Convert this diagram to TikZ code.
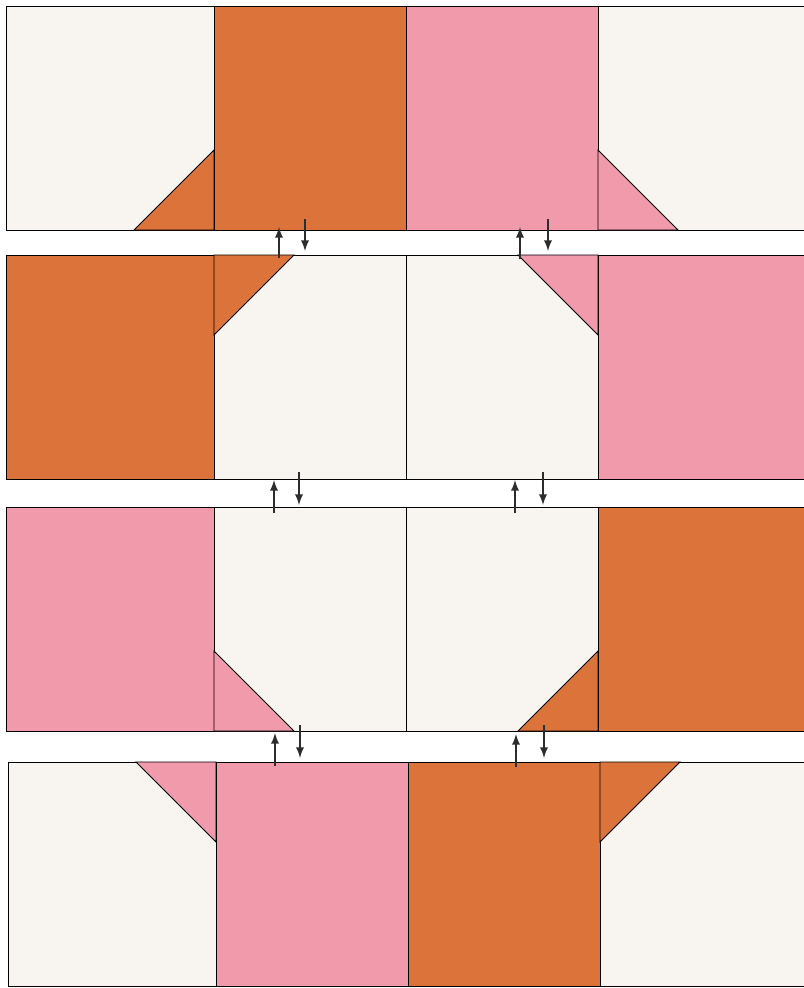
\documentclass[tikz,border=0pt]{standalone}
\usetikzlibrary{arrows}
\definecolor{cream}{RGB}{248,245,240}
\definecolor{rust}{RGB}{219,115,58}
\definecolor{rose}{RGB}{240,154,172}
\definecolor{ink}{RGB}{45,45,45}
\begin{document}
\begin{tikzpicture}[x=0.02cm, y=-0.02cm,
    patch/.style={draw=black, line width=0.5pt},
    flip/.style={ink, line width=1.1pt, ->, >=latex}
]
\useasboundingbox (0,0) rectangle (804,988);

% Fila 1
\draw[patch, fill=cream] (6,6) rectangle (214,230);
\draw[patch, fill=rust] (134,230) -- (214,150) -- (214,230) -- cycle;
\draw[patch, fill=rust] (214,6) rectangle (406,230);
\draw[patch, fill=rose] (406,6) rectangle (598,230);
\draw[patch, fill=cream] (598,6) rectangle (810,230);
\draw[patch, fill=rose] (598,150) -- (678,230) -- (598,230) -- cycle;

% Fila 2
\draw[patch, fill=rust] (6,255) rectangle (214,479);
\draw[patch, fill=cream] (214,255) rectangle (406,479);
\draw[patch, fill=rust] (214,255) -- (294,255) -- (214,335) -- cycle;
\draw[patch, fill=cream] (406,255) rectangle (598,479);
\draw[patch, fill=rose] (518,255) -- (598,255) -- (598,335) -- cycle;
\draw[patch, fill=rose] (598,255) rectangle (810,479);

% Fila 3
\draw[patch, fill=rose] (6,507) rectangle (214,731);
\draw[patch, fill=cream] (214,507) rectangle (406,731);
\draw[patch, fill=rose] (214,651) -- (294,731) -- (214,731) -- cycle;
\draw[patch, fill=cream] (406,507) rectangle (598,731);
\draw[patch, fill=rust] (518,731) -- (598,651) -- (598,731) -- cycle;
\draw[patch, fill=rust] (598,507) rectangle (810,731);

% Fila 4
\draw[patch, fill=cream] (8,762) rectangle (216,986);
\draw[patch, fill=rose] (136,762) -- (216,762) -- (216,842) -- cycle;
\draw[patch, fill=rose] (216,762) rectangle (408,986);
\draw[patch, fill=rust] (408,762) rectangle (600,986);
\draw[patch, fill=cream] (600,762) rectangle (810,986);
\draw[patch, fill=rust] (600,762) -- (680,762) -- (600,842) -- cycle;

% Flechas entre filas
\draw[flip] (279,258) -- (279,227);
\draw[flip] (305,219) -- (305,251);
\draw[flip] (520,259) -- (520,227);
\draw[flip] (548,219) -- (548,251);

\draw[flip] (274,513) -- (274,480);
\draw[flip] (299,472) -- (299,505);
\draw[flip] (515,513) -- (515,480);
\draw[flip] (543,472) -- (543,505);

\draw[flip] (275,766) -- (275,733);
\draw[flip] (300,725) -- (300,758);
\draw[flip] (516,767) -- (516,734);
\draw[flip] (544,725) -- (544,758);

\end{tikzpicture}
\end{document}
